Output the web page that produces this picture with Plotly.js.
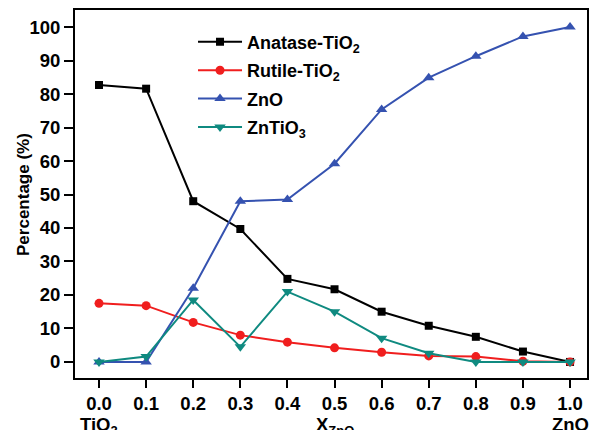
<!DOCTYPE html>
<html>
<head>
<meta charset="utf-8">
<script src="https://cdn.plot.ly/plotly-3.0.1.min.js"></script>
<style>html,body{margin:0;padding:0;background:#fff;}#chart{width:593px;height:430px;}</style>
</head>
<body>
<div id="chart"></div>
<script>
const xValues = [0.0, 0.1, 0.2, 0.3, 0.4, 0.5, 0.6, 0.7, 0.8, 0.9, 1.0];
const anatase = [82.7, 81.6, 48.0, 39.7, 24.8, 21.7, 15.0, 10.8, 7.5, 3.1, 0.0];
const rutile = [17.5, 16.8, 11.8, 8.0, 5.9, 4.2, 2.9, 1.8, 1.6, 0.2, 0.0];
const zno = [0.0, 0.0, 22.0, 48.0, 48.5, 59.2, 75.4, 84.9, 91.3, 97.2, 100.0];
const znti = [0.0, 1.6, 18.5, 4.5, 21.0, 15.0, 7.1, 2.6, 0.0, 0.0, 0.0];
const xTickVals = [0.0, 0.1, 0.2, 0.3, 0.4, 0.5, 0.6, 0.7, 0.8, 0.9, 1.0];
const xTickText = ['0.0', '0.1', '0.2', '0.3', '0.4', '0.5', '0.6', '0.7', '0.8', '0.9', '1.0'];
const yTickVals = [0, 10, 20, 30, 40, 50, 60, 70, 80, 90, 100];
const seriesNames = ['Anatase-TiO<sub>2</sub>', 'Rutile-TiO<sub>2</sub>', 'ZnO', 'ZnTiO<sub>3</sub>'];
const endLabels = ['TiO<sub>2</sub>', 'X<sub>ZnO</sub>', 'ZnO'];
const endLabelX = [0.0, 0.5, 1.0];
const yTitle = 'Percentage (%)';

const fam = 'Liberation Sans, Arial, sans-serif';
function f(size) { return {family: fam, size: size, color: '#000', weight: 'bold'}; }
function tr(y, name, color, symbol, size, grp) {
  return {x: xValues, y: y, name: name, type: 'scatter', mode: 'lines+markers',
    line: {color: color, width: 2}, marker: {color: color, symbol: symbol, size: size}, legendgroup: grp};
}
const data = [
  tr(anatase, seriesNames[0], '#000000', 'square', 8, 'a'),
  tr(rutile, seriesNames[1], '#f01e1e', 'circle', 9, 'b'),
  tr(zno, seriesNames[2], '#3552b0', 'triangle-up', 10, 'c'),
  tr(znti, seriesNames[3], '#0f8a80', 'triangle-down', 10, 'd')
];
const annotations = endLabels.map((t, i) => ({text: t, xref: 'x', yref: 'paper', x: endLabelX[i], y: -0.0924,
  xanchor: 'center', yanchor: 'top', showarrow: false, font: f(18.5)}));
annotations.push({text: yTitle, xref: 'paper', yref: 'paper', x: -0.1016, y: 0.5, xanchor: 'center', yanchor: 'middle',
  textangle: -90, showarrow: false, font: f(17)});
const layout = {
  width: 593, height: 430,
  margin: {l: 75, r: 6, t: 10, b: 52},
  paper_bgcolor: '#fff', plot_bgcolor: '#fff',
  font: f(18),
  showlegend: true,
  legend: {x: 0.2305, y: 0.963, xanchor: 'left', yanchor: 'top', bgcolor: 'rgba(0,0,0,0)', itemwidth: 44,
    font: f(18), tracegroupgap: 2, traceorder: 'grouped'},
  xaxis: {range: [-0.051, 1.036], tickvals: xTickVals, ticktext: xTickText, ticks: 'outside', ticklen: 8, tickwidth: 2,
    tickcolor: '#000', showline: true, linewidth: 2, linecolor: '#000', mirror: true, showgrid: false, zeroline: false,
    tickfont: f(18.5)},
  yaxis: {range: [-4.8, 105.1], tickvals: yTickVals, ticks: 'outside', ticklen: 9, tickwidth: 2,
    tickcolor: '#000', showline: true, linewidth: 2, linecolor: '#000', mirror: true, showgrid: false, zeroline: false,
    tickfont: f(18.5)},
  annotations: annotations
};
Plotly.newPlot('chart', data, layout, {displayModeBar: false, staticPlot: true});
</script>
</body>
</html>
